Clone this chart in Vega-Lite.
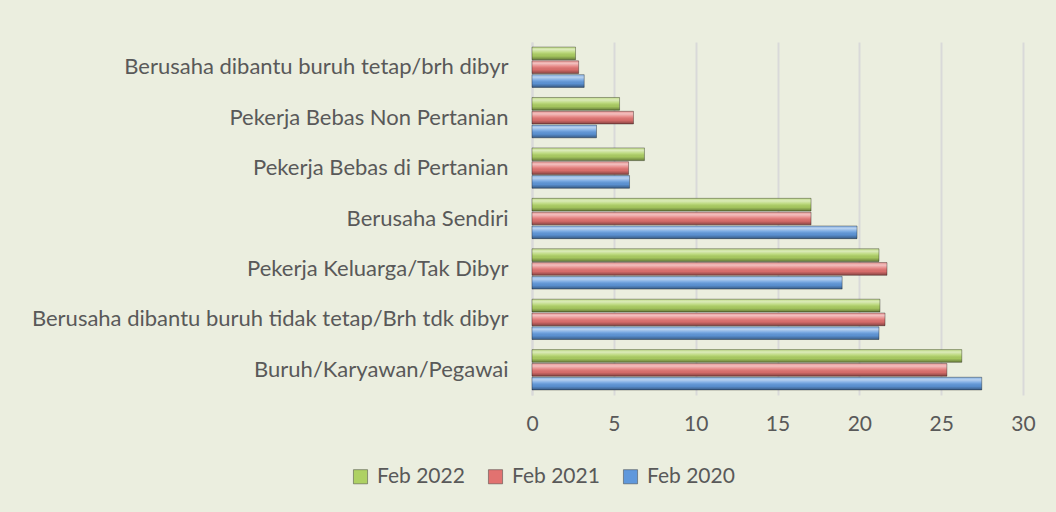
{
  "$schema": "https://vega.github.io/schema/vega-lite/v6.json",
  "autosize": {"type": "none"},
  "width": 491,
  "height": 353,
  "padding": {"left": 532, "top": 42, "right": 33, "bottom": 117},
  "background": "#EBEEDF",
  "config": {
    "view": {"stroke": null},
    "font": "Lato",
    "axis": {"labelColor": "#595959", "labelFont": "Lato"},
    "legend": {"labelColor": "#595959", "labelFont": "Lato"}
  },
  "data": {
    "values": [
      {"category": "Berusaha dibantu buruh tetap/brh dibyr", "year": "Feb 2022", "value": 2.66},
      {"category": "Berusaha dibantu buruh tetap/brh dibyr", "year": "Feb 2021", "value": 2.85},
      {"category": "Berusaha dibantu buruh tetap/brh dibyr", "year": "Feb 2020", "value": 3.19},
      {"category": "Pekerja Bebas Non Pertanian", "year": "Feb 2022", "value": 5.35},
      {"category": "Pekerja Bebas Non Pertanian", "year": "Feb 2021", "value": 6.2},
      {"category": "Pekerja Bebas Non Pertanian", "year": "Feb 2020", "value": 3.94},
      {"category": "Pekerja Bebas di Pertanian", "year": "Feb 2022", "value": 6.87},
      {"category": "Pekerja Bebas di Pertanian", "year": "Feb 2021", "value": 5.9},
      {"category": "Pekerja Bebas di Pertanian", "year": "Feb 2020", "value": 5.96},
      {"category": "Berusaha Sendiri", "year": "Feb 2022", "value": 17.05},
      {"category": "Berusaha Sendiri", "year": "Feb 2021", "value": 17.05},
      {"category": "Berusaha Sendiri", "year": "Feb 2020", "value": 19.86},
      {"category": "Pekerja Keluarga/Tak Dibyr", "year": "Feb 2022", "value": 21.2},
      {"category": "Pekerja Keluarga/Tak Dibyr", "year": "Feb 2021", "value": 21.69},
      {"category": "Pekerja Keluarga/Tak Dibyr", "year": "Feb 2020", "value": 18.95},
      {"category": "Berusaha dibantu buruh tidak tetap/Brh tdk dibyr", "year": "Feb 2022", "value": 21.26},
      {"category": "Berusaha dibantu buruh tidak tetap/Brh tdk dibyr", "year": "Feb 2021", "value": 21.57},
      {"category": "Berusaha dibantu buruh tidak tetap/Brh tdk dibyr", "year": "Feb 2020", "value": 21.2},
      {"category": "Buruh/Karyawan/Pegawai", "year": "Feb 2022", "value": 26.26},
      {"category": "Buruh/Karyawan/Pegawai", "year": "Feb 2021", "value": 25.35},
      {"category": "Buruh/Karyawan/Pegawai", "year": "Feb 2020", "value": 27.48}
    ]
  },
  "encoding": {
    "y": {
      "field": "category",
      "type": "nominal",
      "sort": null,
      "title": null,
      "scale": {"paddingInner": 0.2, "paddingOuter": 0.1},
      "axis": {
        "domain": true,
        "domainColor": "#D9D9D9",
        "domainWidth": 2,
        "ticks": false,
        "labelFontSize": 22,
        "labelPadding": 24,
        "labelLimit": 600
      }
    },
    "yOffset": {
      "field": "year",
      "type": "nominal",
      "sort": ["Feb 2022", "Feb 2021", "Feb 2020"],
      "scale": {"paddingInner": 0.08}
    },
    "x": {
      "field": "value",
      "type": "quantitative",
      "title": null,
      "scale": {"domain": [0, 30], "nice": false},
      "axis": {
        "values": [0, 5, 10, 15, 20, 25, 30],
        "domain": false,
        "ticks": false,
        "grid": true,
        "gridColor": "#D9D9D9",
        "gridWidth": 2,
        "labelFontSize": 21,
        "labelPadding": 18,
        "labelFlush": false
      }
    }
  },
  "layer": [
    {
      "mark": {"type": "bar"},
      "encoding": {
        "color": {
          "field": "year",
          "type": "nominal",
          "sort": ["Feb 2022", "Feb 2021", "Feb 2020"],
          "scale": {"domain": ["Feb 2022", "Feb 2021", "Feb 2020"], "range": ["#AED163", "#E27270", "#5F98DC"]},
          "legend": {
            "title": null,
            "orient": "none",
            "direction": "horizontal",
            "legendX": -182,
            "legendY": 424,
            "symbolType": "square",
            "symbolSize": 200,
            "symbolStrokeColor": "#404040",
            "symbolStrokeWidth": 0.5,
            "labelFontSize": 21,
            "labelOffset": 6,
            "columnPadding": 20
          }
        }
      }
    },
    {
      "mark": {
        "type": "bar",
        "stroke": "rgba(0,0,0,0.55)",
        "strokeWidth": 0.6,
        "color": {
          "gradient": "linear",
          "x1": 0, "y1": 0, "x2": 0, "y2": 1,
          "stops": [
            {"offset": 0, "color": "rgba(255,255,255,0.25)"},
            {"offset": 0.2, "color": "rgba(255,255,255,0.55)"},
            {"offset": 0.45, "color": "rgba(255,255,255,0.15)"},
            {"offset": 0.7, "color": "rgba(0,0,0,0.05)"},
            {"offset": 1, "color": "rgba(0,0,0,0.4)"}
          ]
        }
      }
    }
  ]
}
